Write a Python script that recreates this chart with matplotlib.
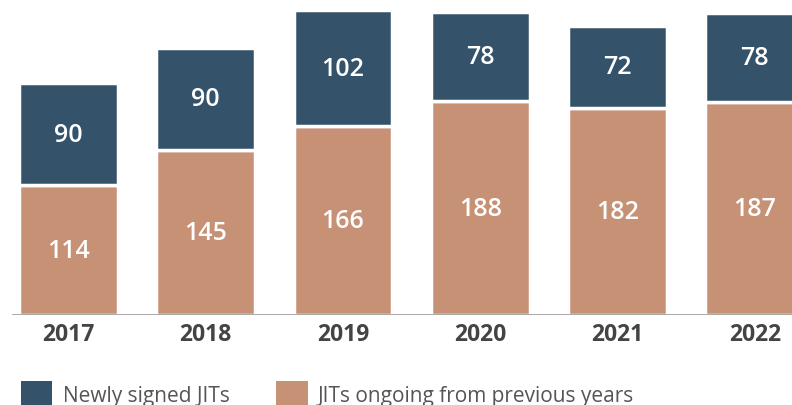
import matplotlib.pyplot as plt
import numpy as np

plt.rcParams['font.family'] = ['Open Sans', 'DejaVu Sans']

years = ["2017", "2018", "2019", "2020", "2021", "2022"]
ongoing = [114, 145, 166, 188, 182, 187]
newly_signed = [90, 90, 102, 78, 72, 78]

blue = '#34536b'
tan = '#c79176'

fig = plt.figure(figsize=(7.92, 4.06), dpi=100)
ax = fig.add_axes([0, 90 / 406, 1, 305 / 406])

x = np.arange(len(years))
w = 0.718
b1 = ax.bar(x, ongoing, w, color=tan, edgecolor='white', linewidth=2.5,
            label='JITs ongoing from previous years')
b2 = ax.bar(x, newly_signed, w, bottom=ongoing, color=blue, edgecolor='white',
            linewidth=2.5, label='Newly signed JITs')

# value labels in the middle of each segment
for i in range(len(years)):
    ax.text(x[i], ongoing[i] / 2, str(ongoing[i]), ha='center', va='center',
            color='white', fontsize=18, fontweight='semibold')
    ax.text(x[i], ongoing[i] + newly_signed[i] / 2, str(newly_signed[i]),
            ha='center', va='center', color='white', fontsize=18,
            fontweight='semibold')

ax.set_xlim(-68.5 / 137.25, (792 - 68.5) / 137.25)
ax.set_ylim(0, 268)
ax.axhline(0, xmin=13 / 792, xmax=1, color='#9a9a9a', lw=1.2, zorder=5)

ax.set_xticks(x)
ax.set_xticklabels(years, fontsize=16.5, fontweight='bold', color='#444444')
ax.tick_params(axis='x', length=0, pad=5)
ax.set_yticks([])
for s in ax.spines.values():
    s.set_visible(False)

leg = ax.legend(handles=[b2, b1], loc='upper left',
                bbox_to_anchor=(21 / 792, 1 - 382 / 406),
                bbox_transform=fig.transFigure, ncol=2, frameon=False,
                fontsize=15, handlelength=1.5, handleheight=1.5,
                handletextpad=0.5, columnspacing=2.25, borderpad=0,
                borderaxespad=0)
for t in leg.get_texts():
    t.set_color('#555555')
for h in leg.legend_handles:
    h.set_linewidth(0)

fig.savefig('out.png', dpi=100)
